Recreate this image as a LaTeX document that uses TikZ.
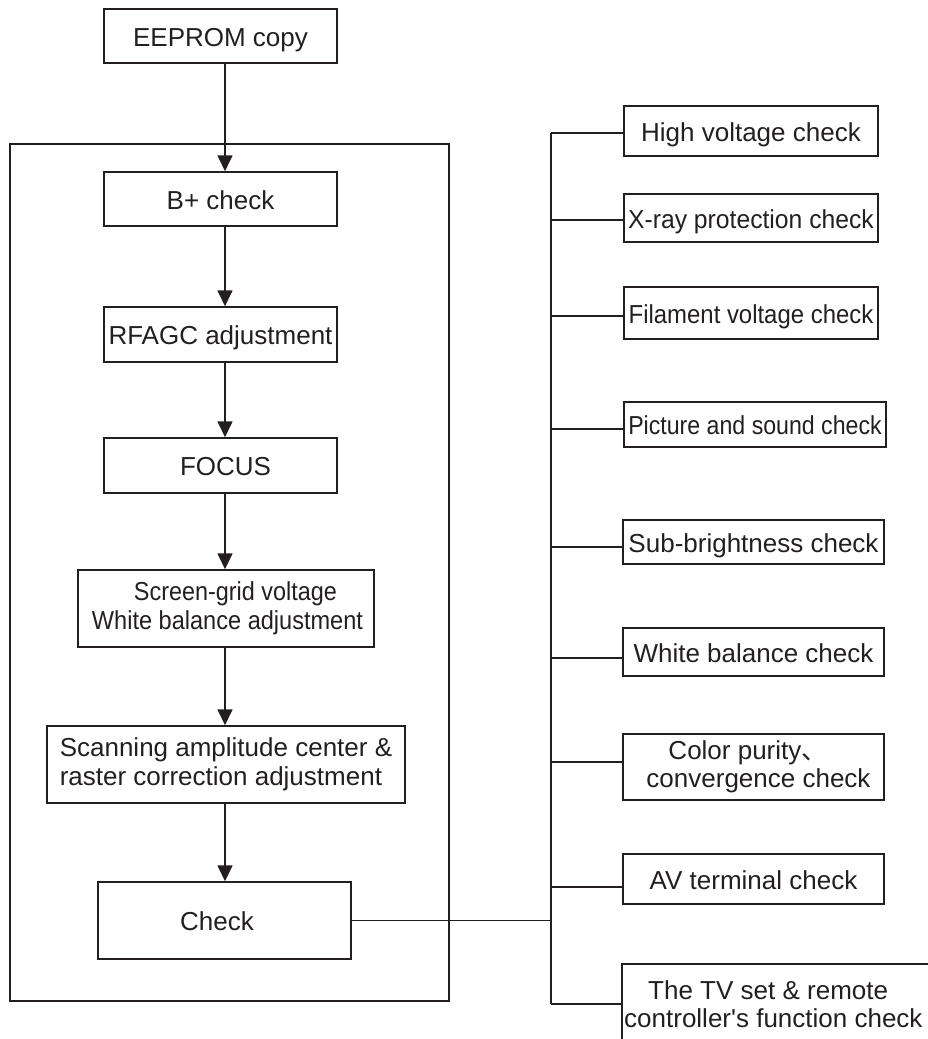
\documentclass[tikz,border=0pt]{standalone}
\usepackage{fontspec}
\setmainfont{Liberation Sans}[Ligatures=TeXOff]
\newfontfamily\cjkfont{Noto Sans CJK SC}
\usepackage{graphicx}
\usetikzlibrary{arrows.meta}
\definecolor{ink}{RGB}{35,31,32}
\begin{document}
\begin{tikzpicture}[x=1pt,y=-1pt,
  every node/.style={font=\fontsize{26pt}{28.5pt}\selectfont, text=ink, inner sep=0pt},
  box/.style={draw=ink, line width=1.5pt, rectangle},
  one/.style={text height=20pt, text depth=0pt},
  link/.style={draw=ink, line width=1.5pt},
  arr/.style={draw=ink, line width=1.7pt, -{Triangle[length=16pt,width=15pt]}}]
\useasboundingbox (0,0) rectangle (927,1039);

% left column
\node[box, minimum width=439pt, minimum height=857pt] (frame) at (229.5,572.5) {};
\node[box, one, minimum width=233pt, minimum height=54pt] (eeprom) at (220.5,36) {EEPROM copy};
\node[box, one, minimum width=233pt, minimum height=54pt] (bplus) at (220.5,199) {B+ check};
\node[box, one, minimum width=233pt, minimum height=55pt] (rfagc) at (220.5,334.5) {RFAGC adjustment};
\node[box, one, minimum width=233pt, minimum height=55pt] (focus) at (220.5,465.5) {\hspace*{10pt}FOCUS};
\node[box, align=left, minimum width=296pt, minimum height=77pt] (screen) at (226,608.5)
  {\hspace*{45pt}\scalebox{0.9}[1]{Screen-grid voltage}\\\hspace*{3pt}\scalebox{0.906}[1]{White balance adjustment}};
\node[box, align=left, minimum width=358pt, minimum height=77pt] (scan) at (226,764.5)
  {Scanning amplitude center \&\\raster correction adjustment};
\node[box, one, minimum width=253pt, minimum height=77pt] (check) at (224.5,920.5) {Check\hspace*{15pt}};

\coordinate (ax) at (225,0);
\draw[arr] (eeprom.south -| ax) -- (bplus.north -| ax);
\draw[arr] (bplus.south -| ax) -- (rfagc.north -| ax);
\draw[arr] (rfagc.south -| ax) -- (focus.north -| ax);
\draw[arr] (focus.south -| ax) -- (screen.north -| ax);
\draw[arr] (screen.south -| ax) -- (scan.north -| ax);
\draw[arr] (scan.south -| ax) -- (check.north -| ax);

% right column
\node[box, one, minimum width=254pt, minimum height=50pt] (hv) at (751,131) {High voltage check};
\node[box, one, minimum width=254pt, minimum height=48pt] (xray) at (751,218) {\scalebox{0.95}[1]{X-ray protection check}};
\node[box, one, minimum width=254pt, minimum height=52pt] (fil) at (751,313) {\scalebox{0.92}[1]{Filament voltage check}};
\node[box, one, minimum width=262pt, minimum height=45pt] (pic) at (755,424.5) {\scalebox{0.89}[1]{Picture and sound check}};
\node[box, one, minimum width=261pt, minimum height=44pt] (sub) at (753.5,542) {Sub-brightness check};
\node[box, one, minimum width=261pt, minimum height=48pt] (wb) at (753.5,652) {White balance check};
\node[box, align=left, minimum width=261pt, minimum height=66pt] (color) at (753.5,767)
  {\hspace*{32pt}Color purity\smash{\cjkfont 、}\\\hspace*{10pt}convergence check};
\node[box, one, minimum width=261pt, minimum height=50pt] (av) at (753.5,879) {AV terminal check};
\node[box, minimum width=323pt, minimum height=96pt] (tv) at (783.5,1012) {};
\node[anchor=north west, align=left] (tvtext) at (624,980)
  {\hspace*{24pt}The TV set \& remote\\controller's function check};

% spine and branches
\coordinate (s1) at (551,133);
\coordinate (s2) at (551,220);
\coordinate (s3) at (551,316);
\coordinate (s4) at (551,429);
\coordinate (s5) at (551,547);
\coordinate (s6) at (551,658);
\coordinate (s7) at (551,762);
\coordinate (s8) at (551,887);
\coordinate (s9) at (551,1004);
\draw[link] (s1) -- (s9);
\draw[link] (s1) -- (s1 -| hv.west);
\draw[link] (s2) -- (s2 -| xray.west);
\draw[link] (s3) -- (s3 -| fil.west);
\draw[link] (s4) -- (s4 -| pic.west);
\draw[link] (s5) -- (s5 -| sub.west);
\draw[link] (s6) -- (s6 -| wb.west);
\draw[link] (s7) -- (s7 -| color.west);
\draw[link] (s8) -- (s8 -| av.west);
\draw[link] (s9) -- (s9 -| tv.west);
\draw[link] (check.east) -- (check.east -| s1);
\end{tikzpicture}
\end{document}
